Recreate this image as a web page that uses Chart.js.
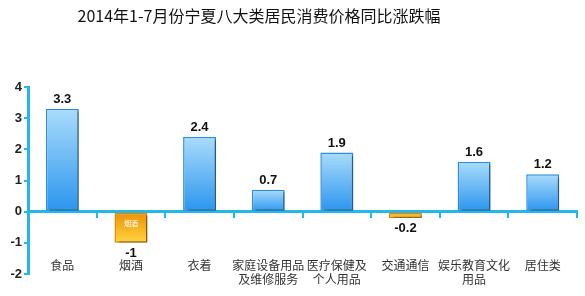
<!DOCTYPE html>
<html>
<head>
<meta charset="utf-8">
<script src="https://cdn.jsdelivr.net/npm/chart.js@4"></script>
<style>
  html, body { margin: 0; padding: 0; background: #fff; }
  #wrap { width: 585px; height: 296px; }
</style>
</head>
<body>
<div id="wrap"><canvas id="chart"></canvas></div>
<script>
const title = '2014年1-7月份宁夏八大类居民消费价格同比涨跌幅';
const categories = ['食品', '烟酒', '衣着', ['家庭设备用品', '及维修服务'], ['医疗保健及', '个人用品'], '交通通信', ['娱乐教育文化', '用品'], '居住类'];
const values = [3.3, -1, 2.4, 0.7, 1.9, -0.2, 1.6, 1.2];
const yTicks = [-2, -1, 0, 1, 2, 3, 4];

const axisColor = '#22b8ec';

// gradient per bar, blue for rises, orange/yellow for falls
function barFill(c) {
    const chart = c.chart;
    const v = values[c.dataIndex];
    const y = chart.scales.y;
    const flat = v >= 0 ? '#5fb8f5' : '#f5b01a';
    if (!y) return flat;
    const top = y.getPixelForValue(Math.max(v, 0));
    const bottom = y.getPixelForValue(Math.min(v, 0));
    if (!isFinite(top) || !isFinite(bottom)) return flat;
    const g = chart.ctx.createLinearGradient(0, top, 0, bottom + 0.01);
    if (v >= 0) {
        g.addColorStop(0, '#aadcfb');
        g.addColorStop(1, '#2a95ee');
    } else {
        g.addColorStop(0, '#ec8f06');
        g.addColorStop(1, '#ffd640');
    }
    return g;
}

// title sits a bit left of centre in the original
const chartTitle = {
    id: 'chartTitle',
    afterDraw(chart) {
        const ctx = chart.ctx;
        ctx.save();
        ctx.font = '16px "Noto Sans CJK SC", sans-serif';
        ctx.fillStyle = '#111';
        ctx.textAlign = 'center';
        ctx.textBaseline = 'middle';
        ctx.fillText(title, 259, 16);
        ctx.restore();
    }
};

const barShadow = {
    id: 'barShadow',
    beforeDatasetDraw(chart) {
        const ctx = chart.ctx;
        ctx.save();
        ctx.shadowColor = 'rgba(0,0,0,0.35)';
        ctx.shadowOffsetX = 3;
        ctx.shadowOffsetY = 2;
        ctx.shadowBlur = 2;
    },
    afterDatasetDraw(chart) {
        chart.ctx.restore();
    }
};

const valueLabels = {
    id: 'valueLabels',
    afterDatasetsDraw(chart) {
        const ctx = chart.ctx;
        const meta = chart.getDatasetMeta(0);
        ctx.save();
        ctx.textAlign = 'center';
        meta.data.forEach((bar, i) => {
            const v = values[i];
            ctx.font = 'bold 13px Arial, "Liberation Sans", sans-serif';
            ctx.fillStyle = '#111';
            if (v >= 0) {
                ctx.textBaseline = 'bottom';
                ctx.fillText(String(v), bar.x, bar.y - 3);
            } else {
                ctx.textBaseline = 'top';
                ctx.fillText(String(v), bar.x, bar.y + 4);
                // small caption inside the tall falling bar
                if (bar.y - bar.base > 20) {
                    ctx.font = '7px "Noto Sans CJK SC", sans-serif';
                    ctx.fillStyle = '#fff';
                    ctx.textBaseline = 'middle';
                    ctx.fillText(categories[i], bar.x, bar.base + 11);
                }
            }
        });
        ctx.restore();
    }
};

new Chart(document.getElementById('chart'), {
    type: 'bar',
    data: {
        labels: categories,
        datasets: [{
            data: values,
            backgroundColor: barFill,
            borderColor: (c) => values[c.dataIndex] >= 0 ? '#2f8fdc' : '#e08a00',
            borderWidth: 1.5,
            borderSkipped: false,
            categoryPercentage: 1,
            barPercentage: 0.48
        }]
    },
    plugins: [barShadow, valueLabels, chartTitle],
    options: {
        responsive: true,
        maintainAspectRatio: false,
        animation: false,
        layout: { padding: { left: 0, right: 8, top: 87, bottom: 22 } },
        plugins: {
            legend: { display: false },
            tooltip: { enabled: false },
            title: { display: false }
        },
        scales: {
            x: {
                type: 'category',
                position: { y: -2 },
                offset: true,
                grid: { display: false, drawTicks: false },
                border: { display: false },
                ticks: {
                    color: '#333',
                    padding: -15,
                    maxRotation: 0,
                    autoSkip: false,
                    font: { family: '"Noto Sans CJK SC", sans-serif', size: 12, lineHeight: 1.15 }
                }
            },
            x2: {
                type: 'category',
                labels: categories,
                position: { y: 0 },
                offset: true,
                grid: { display: true, offset: true, drawOnChartArea: false, drawTicks: true, tickLength: 5, color: axisColor, lineWidth: 2 },
                border: { display: true, color: axisColor, width: 3 },
                ticks: { display: false }
            },
            y: {
                min: -2,
                max: 4,
                afterBuildTicks: (s) => { s.ticks = yTicks.map(v => ({ value: v })); },
                grid: { display: true, drawOnChartArea: false, drawTicks: true, tickLength: 4, color: axisColor, lineWidth: 2 },
                border: { display: true, color: axisColor, width: 3 },
                ticks: {
                    color: '#222',
                    padding: 2,
                    font: { family: 'Arial, "Liberation Sans", sans-serif', size: 13, weight: 'bold' }
                },
                afterFit: (s) => { s.width = 28; }
            }
        }
    }
});
</script>
</body>
</html>
